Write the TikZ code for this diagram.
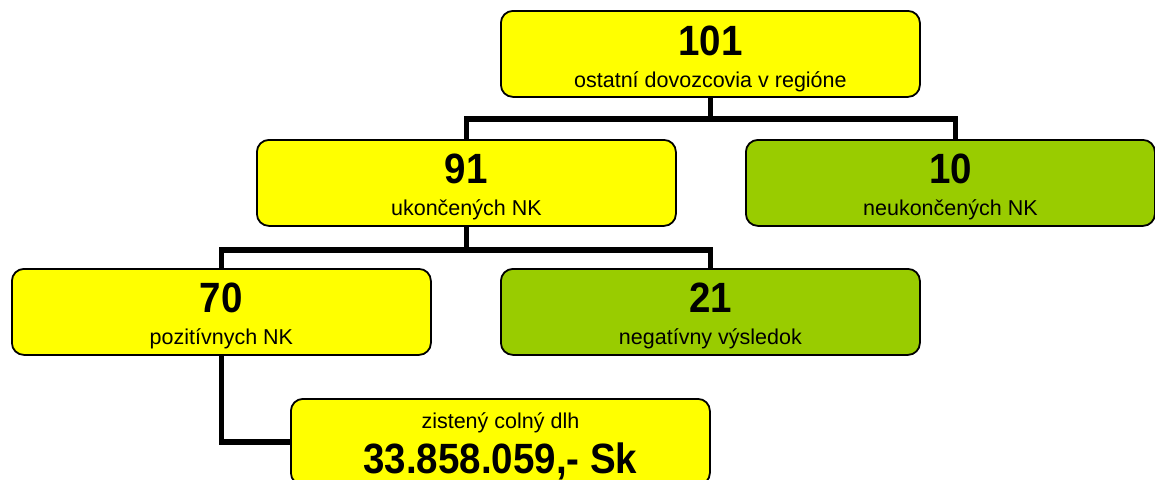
\documentclass[tikz,border=0pt]{standalone}
\usepackage{fontspec}
\setmainfont{Liberation Sans}
\usetikzlibrary{backgrounds}
\definecolor{boxgreen}{HTML}{99CC00}
\definecolor{boxyellow}{HTML}{FFFF00}
\newcommand\tallnum[1]{\scalebox{1}[1.1]{#1}}
\begin{document}
\begin{tikzpicture}[x=1pt,y=-1pt,
 box/.style={draw=black, line width=1.8pt, rounded corners=12pt, inner sep=0pt, anchor=north west, minimum width=419pt, minimum height=86pt},
 yel/.style={box, fill=boxyellow},
 grn/.style={box, fill=boxgreen},
 num/.style={anchor=base, font=\fontsize{38.5}{40}\selectfont\bfseries, inner sep=0pt},
 sub/.style={anchor=base, font=\fontsize{21.5}{24}\selectfont, inner sep=0pt},
 link/.style={line width=5.5pt}]
\useasboundingbox (0,0) rectangle (1155,479);
\clip (0,0) rectangle (1155,479);

\node[yel] (top) at (500,10) {};
\node[yel, minimum width=419pt] (b91) at (256,139) {};
\node[grn, minimum width=409pt] (b10) at (745,139) {};
\node[yel] (b70) at (11,268) {};
\node[grn] (b21) at (500,268) {};
\node[yel, minimum height=86pt] (bot) at (290,398) {};

\node[num] (t101) at ([yshift=-45pt]top.north) {\tallnum{101}};
\node[sub] (s101) at ([yshift=-77pt]top.north) {ostatní dovozcovia v regióne};
\node[num] (t91) at ([yshift=-44pt]b91.north) {\tallnum{91}};
\node[sub] (s91) at ([yshift=-76pt]b91.north) {ukončených NK};
\node[num] (t10) at ([yshift=-44pt]b10.north) {\tallnum{10}};
\node[sub] (s10) at ([yshift=-76pt]b10.north) {neukončených NK};
\node[num] (t70) at ([yshift=-44pt]b70.north) {\tallnum{70}};
\node[sub] (s70) at ([yshift=-76pt]b70.north) {pozitívnych NK};
\node[num] (t21) at ([yshift=-44pt]b21.north) {\tallnum{21}};
\node[sub] (s21) at ([yshift=-76pt]b21.north) {negatívny výsledok};
\node[sub] (sbot) at ([yshift=-30pt]bot.north) {zistený colný dlh};
\node[num] (tbot) at ([yshift=-75pt]bot.north) {\tallnum{33.858.059,- Sk}};

\begin{scope}[on background layer]
\draw[link] (top.south) -- ++(0,21) -| (b91.north);
\draw[link] (top.south) -- ++(0,21) -| ([xshift=5pt]b10.north);
\draw[link] (b91.south) -- ++(0,23) -| (b70.north);
\draw[link] (b91.south) -- ++(0,23) -| (b21.north);
\draw[link] (b70.south) |- (bot.west);
\end{scope}
\end{tikzpicture}
\end{document}
